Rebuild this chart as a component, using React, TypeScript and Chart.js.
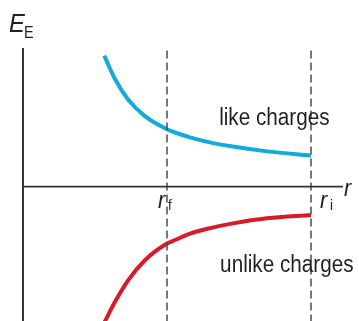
import React, { useEffect, useRef } from "react";
import { Chart, registerables } from "chart.js";

Chart.register(...registerables);

// r values (arbitrary units) and energies
const likeR = [2.54, 2.875, 3.29, 3.81, 4.5, 4.75, 5.22, 5.84, 6.56, 7.63, 9.0];
const likeE = [4.09, 3.36, 2.71, 2.2, 1.79, 1.69, 1.54, 1.38, 1.25, 1.1, 0.97];
const unlikeR = [2.54, 2.875, 3.29, 3.81, 4.5, 4.75, 5.22, 5.84, 6.56, 7.63, 9.0];
const unlikeE = [-4.25, -3.6, -2.92, -2.3, -1.78, -1.67, -1.47, -1.3, -1.15, -0.99, -0.89];
const rF = 4.5;
const rI = 9.0;
const axisTop = 4.33;
const axisBottom = -4.25;
const axisRight = 10;

const toPts = (xs: number[], ys: number[]) => xs.map((x, i) => ({ x, y: ys[i] }));

export default function App() {
  const ref = useRef<HTMLCanvasElement | null>(null);
  useEffect(() => {
    if (!ref.current) return;
    const textPlugin = {
      id: "texts",
      afterDatasetsDraw(chart: any) {
        const ctx = chart.ctx;
        const xs = chart.scales.x;
        const ys = chart.scales.y;
        ctx.save();
        ctx.fillStyle = "#231f20";
        ctx.textBaseline = "alphabetic";
        ctx.textAlign = "left";
        const draw = (t: string, px: number, py: number, font: string, sx = 0.9) => {
          ctx.save();
          ctx.font = font;
          ctx.translate(px, py);
          ctx.scale(sx, 1);
          ctx.fillText(t, 0, 0);
          ctx.restore();
        };
        const F = "Arial, 'Liberation Sans'";
        const ax = xs.getPixelForValue(0);
        const ay = ys.getPixelForValue(0);
        const top = ys.getPixelForValue(axisTop);
        // E_E
        draw("E", ax - 14, top - 16, "italic 25px " + F, 0.95);
        draw("E", ax + 1, top - 10, "16px " + F, 0.9);
        // r axis label
        draw("r", xs.getPixelForValue(axisRight) + 1, ay + 9, "italic 24px " + F);
        // r_f and r_i
        const fx = xs.getPixelForValue(rF);
        draw("r", fx - 9, ay + 21, "italic 24px " + F);
        draw("f", fx + 1, ay + 23, "15px " + F);
        const ix = xs.getPixelForValue(rI);
        draw("r", ix + 9, ay + 21, "italic 24px " + F);
        draw("i", ix + 19, ay + 23, "15px " + F);
        // curve labels
        draw("like charges", xs.getPixelForValue(6.13), ys.getPixelForValue(1.92), "23px " + F);
        draw("unlike charges", xs.getPixelForValue(6.16), ys.getPixelForValue(-2.67), "23px " + F);
        ctx.restore();
      },
    };
    const chart = new Chart(ref.current, {
      type: "line",
      data: {
        datasets: [
          {
            data: [{ x: 0, y: 0 }, { x: axisRight, y: 0 }],
            borderColor: "#333333",
            borderWidth: 1.6,
            pointRadius: 0,
          },
          {
            data: [{ x: 0, y: axisBottom }, { x: 0, y: axisTop }],
            borderColor: "#333333",
            borderWidth: 2,
            pointRadius: 0,
          },
          {
            data: [{ x: rF, y: axisBottom }, { x: rF, y: axisTop }],
            borderColor: "#4d4d4d",
            borderWidth: 1.5,
            borderDash: [8, 4],
            pointRadius: 0,
          },
          {
            data: [{ x: rI, y: axisBottom }, { x: rI, y: axisTop }],
            borderColor: "#4d4d4d",
            borderWidth: 1.5,
            borderDash: [8, 4],
            pointRadius: 0,
          },
          {
            label: "like charges",
            data: toPts(likeR, likeE),
            borderColor: "#12abdb",
            borderWidth: 4,
            pointRadius: 0,
            cubicInterpolationMode: "monotone",
          },
          {
            label: "unlike charges",
            data: toPts(unlikeR, unlikeE),
            borderColor: "#d71b28",
            borderWidth: 4,
            pointRadius: 0,
            cubicInterpolationMode: "monotone",
          },
        ],
      },
      options: {
        animation: false,
        responsive: false,
        layout: { padding: { left: 23, right: 16, top: 0, bottom: 0 } },
        scales: {
          x: { type: "linear", min: 0, max: 10, display: false },
          y: { type: "linear", min: -4.2, max: 5.83, display: false },
        },
        plugins: { legend: { display: false }, tooltip: { enabled: false } },
        clip: false as any,
      },
      plugins: [textPlugin],
    });
    return () => chart.destroy();
  }, []);
  return (
    <div style={{ position: "fixed", left: 0, top: 0, width: 359, height: 321, background: "#fff" }}>
      <canvas ref={ref} width={359} height={321} />
    </div>
  );
}
